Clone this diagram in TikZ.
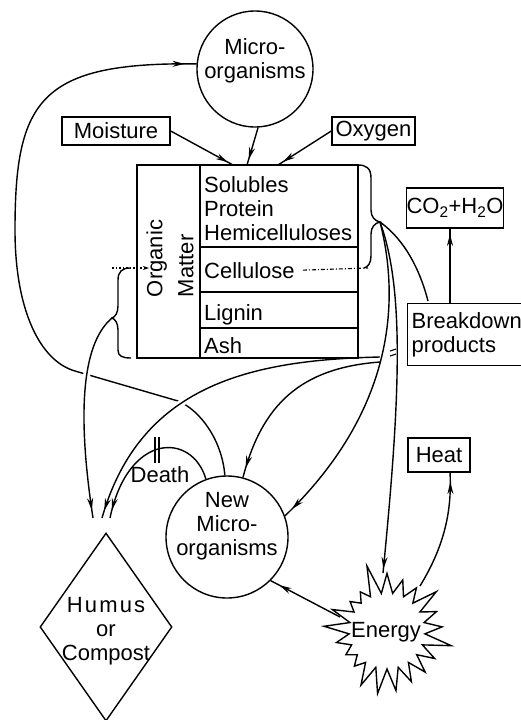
\documentclass[tikz,border=0pt]{standalone}
\usepackage{fontspec}
\setmainfont{Liberation Sans}
\usetikzlibrary{arrows.meta,decorations.markings,shapes.geometric,shapes.symbols}
\begin{document}
\begin{tikzpicture}[x=1pt,y=-1pt,
  every node/.style={font=\fontsize{22}{24}\selectfont, inner sep=0pt},
  ln/.style={line width=1.4pt},
  box/.style={draw, line width=1.4pt, inner sep=0pt},
  arr/.style={postaction={decorate}, decoration={markings, mark=at position -#1 with {\arrow{Stealth[length=12pt,width=6pt]}}}},
  halo/.style={white, line width=7pt}
]
\useasboundingbox (0,0) rectangle (521,720);

% ---------- nodes ----------
\node[circle, draw, ln, minimum size=116pt] (mo) at (255,69) {};
\node[align=center] (mot) at (255,61) {Micro-\\organisms};

\node[box, minimum width=108pt, minimum height=28pt] (moist) at (116,131) {Moisture};
\node[box, minimum width=83pt, minimum height=28pt] (oxy) at (373.5,131) {Oxygen};

% organic matter table
\node[draw, ln, minimum width=221pt, minimum height=193pt] (om) at (247.5,261.5) {};
\draw[ln] (200,165) -- (200,358);
\draw[ln] (200,247) -- (358,247) (200,292) -- (358,292) (200,328) -- (358,328);
\node[rotate=90, align=left, font=\fontsize{22}{31}\selectfont] (omt) at (170,258.5) {Organic\\Matter};
\node[anchor=base west] (sol) at (204,192) {Solubles};
\node[anchor=base west] (pro) at (204,216) {Protein};
\node[anchor=base west] (hem) at (204,240) {Hemicelluloses};
\node[anchor=base west] (cel) at (204,278) {Cellulose};
\node[anchor=base west] (lig) at (204,320) {Lignin};
\node[anchor=base west] (ash) at (204,353) {Ash};

\node[box, minimum width=96pt, minimum height=40pt] (co2) at (455,208) {CO\textsubscript{2}+H\textsubscript{2}O};
\node[box, anchor=north west, text width=112pt, inner xsep=4pt, minimum height=62pt, align=left] (bp) at (407,303) {Breakdown\\products};
\node[box, minimum width=62pt, minimum height=34pt] (heat) at (439,455) {Heat};

\node[circle, draw, ln, minimum size=122pt] (nm) at (227,537) {};
\node[align=center] (nmt) at (227,526) {New\\Micro-\\organisms};

\node[diamond, draw, ln, minimum width=132pt, minimum height=188pt, aspect=0.7] (hu) at (106,627) {};
\node[align=center] (hut) at (106,631) {{\addfontfeatures{LetterSpace=10}Humus}\\or\\Compost};

\node[starburst, draw, ln, minimum width=140pt, minimum height=140pt, starburst points=21, starburst point height=32pt, random starburst=5] (en) at (387,631) {};
\node (ent) at (386,632) {Energy};

\node (death) at (160,475) {Death};

% ---------- coordinates ----------
\coordinate (t1) at (233,165);
\coordinate (t2) at (247,165);
\coordinate (t3) at (278,165);
\coordinate (rb) at (380,222);
\coordinate (lbt) at (112,318);
\coordinate (lbd) at (112,268);
\coordinate (lbe) at (149,268);
\coordinate (rbb) at (368,268);
\coordinate (fk) at (380,357);
\coordinate (fk2) at (380,362);
\coordinate (h1) at (93,518);
\coordinate (h2) at (102,518);
\coordinate (h3) at (110,518);
\coordinate (bpin) at (428,301);
\coordinate (bpt) at (450,303);
\coordinate (cob) at (450,228);
\coordinate (entop) at (383,573);
\coordinate (enw) at (340,617);
\coordinate (ene) at (420,586);
\coordinate (hb) at (450,472);

% ---------- braces ----------
\draw[ln] (358,165) .. controls (366,165) and (371,168) .. (371,178) -- (371,210)
  .. controls (371,217) and (375,221) .. (rb)
  .. controls (375,223) and (371,227) .. (371,234) -- (371,256)
  .. controls (371,263) and (368,267) .. (364,268);
\draw[ln] (130,268) .. controls (122,268) and (118,272) .. (118,280) -- (118,306)
  .. controls (118,313) and (115,317) .. (lbt)
  .. controls (115,319) and (118,323) .. (118,330) -- (118,350)
  .. controls (118,356) and (122,358) .. (131,358);
\draw[line width=1.1pt, dash pattern=on 4pt off 2pt on 1pt off 2pt] (cel.east) ++(8,0) -- (rbb);
\draw[line width=1.1pt, dash pattern=on 1.5pt off 2pt, -{Stealth[length=6pt,width=4pt]}] (lbd) -- (lbe);

% ---------- connectors ----------
\draw[ln, arr=6pt] (moist.east) -- (t1);
\draw[ln, arr=6pt] (mo.-87) -- (t2);
\draw[ln, arr=6pt] (oxy.west) -- (t3);

% big loop New Micro -> Micro
\draw[ln, arr=12pt] (nm.92) .. controls (222,440) and (200,410) .. (178,401) -- (75,371)
  .. controls (40,361) and (15,310) .. (15,230)
  .. controls (15,100) and (40,62) .. (mo.175);

% crossings (gaps)
\begin{scope}
  \clip (87,373) circle (8);
  \draw[halo] (lbt) .. controls (80,345) and (78,420) .. (h1);
\end{scope}
\begin{scope}
  \clip (179,403) circle (9);
  \draw[halo] (fk) .. controls (250,360) and (140,385) .. (h2);
\end{scope}

\draw[ln, arr=8pt] (lbt) .. controls (80,345) and (78,420) .. (h1);
\draw[ln, arr=8pt] (fk) .. controls (250,360) and (140,385) .. (h2);
\draw[ln, arr=8pt] (nm.110) .. controls (192,432) and (128,432) .. (h3);
\draw[ln] (155,437) -- (155,463) (159,437) -- (159,463);

\draw[ln] (rb) .. controls (405,240) and (420,270) .. (bpin);
\draw[ln, arr=10pt] (rb) .. controls (400,300) and (395,410) .. (nm.20);
\draw[ln, arr=4pt] (rb) .. controls (405,290) and (400,400) .. (entop);
\draw[ln, arr=10pt] (fk2) .. controls (300,368) and (262,405) .. (nm.75);
\draw[line width=1.1pt] (390,351) -- (396,349) (390,356) -- (396,354);

\draw[ln, arr=6pt] (bpt) -- (cob);
\draw[ln, arr=10pt] (ene) .. controls (445,545) and (452,510) .. (hb);
\draw[ln, arr=10pt] (enw) -- (nm.-45);
\end{tikzpicture}
\end{document}
